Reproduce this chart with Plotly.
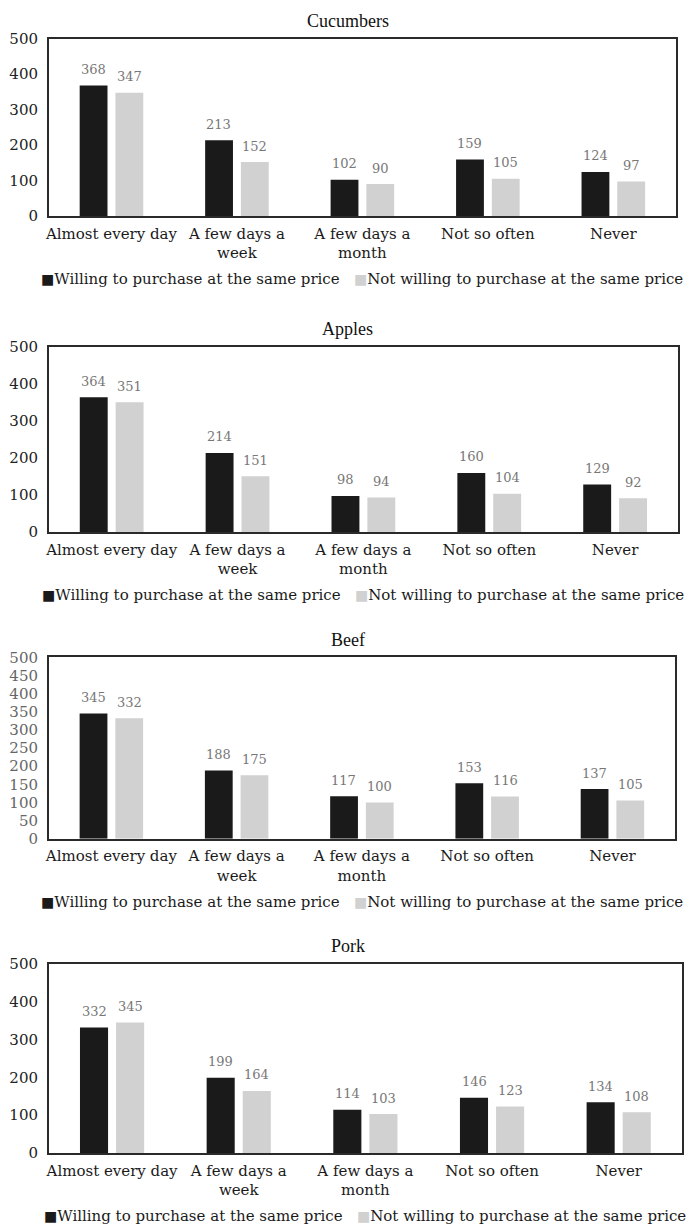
import plotly.graph_objects as go

# Survey responses: purchase frequency vs. willingness to buy at the same price
categories = ["Almost every day", "A few days a week", "A few days a month",
              "Not so often", "Never"]
category_labels = ["Almost every day", "A few days a<br>week", "A few days a<br>month",
                   "Not so often", "Never"]

products = ["Cucumbers", "Apples", "Beef", "Pork"]

willing_cucumbers = [368, 213, 102, 159, 124]
not_willing_cucumbers = [347, 152, 90, 105, 97]

willing_apples = [364, 214, 98, 160, 129]
not_willing_apples = [351, 151, 94, 104, 92]

willing_beef = [345, 188, 117, 153, 137]
not_willing_beef = [332, 175, 100, 116, 105]

willing_pork = [332, 199, 114, 146, 134]
not_willing_pork = [345, 164, 103, 123, 108]

series_names = ["Willing to purchase at the same price",
                "Not willing to purchase at the same price"]

willing = [willing_cucumbers, willing_apples, willing_beef, willing_pork]
not_willing = [not_willing_cucumbers, not_willing_apples, not_willing_beef, not_willing_pork]
y_steps = [100, 100, 50, 100]

W, H = 686, 1230
FONT = "DejaVu Serif"
TITLE_FONT = "Liberation Serif"
BLACK = "#1a1a1a"
GREY = "#d0d1d0"
LABEL = "#777777"

# panel geometry in pixels: (left, right, top, bottom)
panels = [(45, 676, 30, 210), (45, 678, 343, 531), (45, 675, 658, 842), (45, 682, 969, 1161)]
tick_colors = ["#222222", "#222222", "#666666", "#222222"]


def px_x(v):
    return v / W


def px_y(v):
    return 1 - v / H


fig = go.Figure()
annotations = []
layout = {}

for i, name in enumerate(products):
    n = "" if i == 0 else str(i + 1)
    xa, ya = "x" + n, "y" + n
    l, r, t, b = panels[i]

    fig.add_trace(go.Bar(x=categories, y=willing[i], name=series_names[0],
                         marker=dict(color=BLACK, line=dict(width=0)),
                         xaxis=xa, yaxis=ya, showlegend=False))
    fig.add_trace(go.Bar(x=categories, y=not_willing[i], name=series_names[1],
                         marker=dict(color=GREY, line=dict(width=0)),
                         xaxis=xa, yaxis=ya, showlegend=False))

    layout["xaxis" + n] = dict(
        domain=[px_x(l), px_x(r)], anchor=ya, type="category",
        tickvals=categories, ticktext=category_labels,
        showline=True, mirror=True, linecolor="#2a2a2a", linewidth=1.5,
        showgrid=False, ticks="", ticklabelstandoff=3,
        tickfont=dict(family=FONT, size=15, color="#1a1a1a"), fixedrange=True)
    layout["yaxis" + n] = dict(
        domain=[px_y(b), px_y(t)], anchor=xa, range=[0, 500], dtick=y_steps[i],
        showline=True, mirror=True, linecolor="#2a2a2a", linewidth=1.5,
        showgrid=False, zeroline=False, ticks="", ticklabelstandoff=6,
        tickfont=dict(family=FONT, size=15, color=tick_colors[i]), fixedrange=True)

    # panel title
    annotations.append(dict(text=name, xref="paper", yref="paper",
                            x=0.504, y=px_y(t - 18), xanchor="center", yanchor="middle",
                            showarrow=False,
                            font=dict(family=TITLE_FONT, size=18, color="#111111")))

    # value labels above each bar
    for cat, v1, v2 in zip(categories, willing[i], not_willing[i]):
        for v, dx in ((v1, -18), (v2, 18)):
            annotations.append(dict(text=str(v), x=cat, y=v, xref=xa, yref=ya,
                                    xshift=dx, yshift=16, showarrow=False,
                                    xanchor="center", yanchor="middle",
                                    font=dict(family=FONT, size=13, color=LABEL)))

    # legend row below the panel
    legend_text = (f"<span style='color:{BLACK};font-size:14px'>■</span>{series_names[0]}"
                   "\u00a0\u00a0\u00a0"
                   f"<span style='color:{GREY};font-size:14px'>■</span>{series_names[1]}")
    annotations.append(dict(text=legend_text, xref="paper", yref="paper",
                            x=px_x((l + r) / 2), y=px_y(b + 64),
                            xanchor="center", yanchor="middle", showarrow=False,
                            font=dict(family=FONT, size=15, color="#1a1a1a")))

fig.update_layout(
    width=W, height=H,
    margin=dict(l=0, r=0, t=0, b=0),
    paper_bgcolor="white", plot_bgcolor="white",
    barmode="group", bargap=0.43, bargroupgap=0.222,
    annotations=annotations,
    font=dict(family=FONT),
    **layout,
)

fig.write_html("out.html", config={"displayModeBar": False})
